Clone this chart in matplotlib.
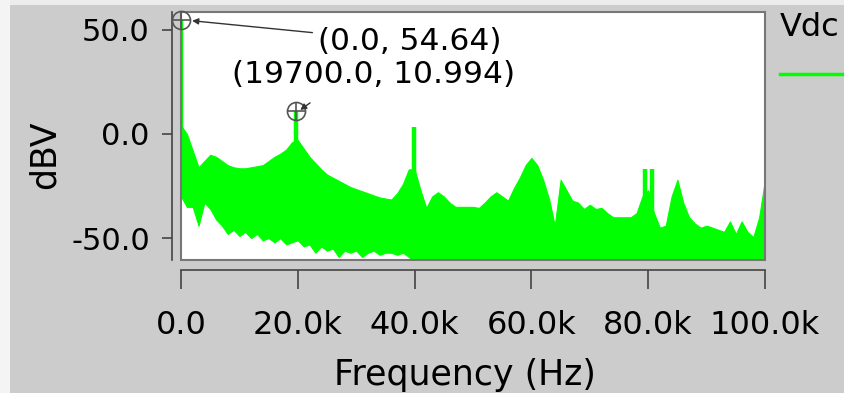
import numpy as np
import matplotlib
matplotlib.use("Agg")
import matplotlib.pyplot as plt
from matplotlib.patches import Rectangle

# spectrum body, 1 kHz bins (dBV)
freq_khz = list(range(0, 101))
upper_db = [4, 0, -8, -16, -13, -10, -11, -13, -15, -16,
            -16.5, -16.5, -16, -15.5, -15, -13, -11, -9.5, -7.5, -4,
            -3, -7, -11, -14, -17, -19.5, -21, -22.5, -24, -25.5,
            -26.5, -27.5, -28.5, -29.5, -30.5, -31, -31.5, -28.5, -24, -17,
            -17, -27, -35.5, -30, -28, -30, -33, -35, -35, -35,
            -35, -35.5, -33, -30, -28, -30, -32, -26, -21, -15,
            -11.5, -15, -22, -31, -44, -22, -27, -32, -33, -36,
            -34, -36, -35.5, -38, -40, -40, -40, -40, -38, -30,
            -27, -38, -45, -44, -30, -22, -33, -40, -43, -45,
            -44, -45, -46, -47, -42, -48, -42, -47, -49.5, -40,
            -22]
lower_db = [-30, -35, -35, -44, -33, -36, -41, -44, -48, -46,
            -49, -47, -50, -48, -51, -50, -52, -50, -53, -52,
            -51, -54, -53, -57, -54, -56, -55, -59, -56, -57,
            -56, -59, -57, -56, -58, -57, -57, -58, -57, -59] + [-62] * 61

# narrow spectral lines
spike_khz = [0.0, 19.7, 39.9, 79.4, 80.6]
spike_db = [54.64, 10.994, 3.4, -17, -17]

# marked points
mark_hz = [0.0, 19700.0]
mark_db = [54.64, 10.994]

xticks = [0, 20000, 40000, 60000, 80000, 100000]
xtick_labels = ["0.0", "20.0k", "40.0k", "60.0k", "80.0k", "100.0k"]
yticks = [-50, 0, 50]
ytick_labels = ["-50.0", "0.0", "50.0"]

green = "#00ff00"
axis_grey = "#444444"

plt.rcParams["font.family"] = ["DejaVu Sans"]

fig = plt.figure(figsize=(8.44, 3.93), dpi=100, facecolor="#cccccc")
# light strips at the top and left edge of the window
fig.patches.append(Rectangle((0, 0.987), 1, 0.013, transform=fig.transFigure,
                             facecolor="#ececec", edgecolor="none", zorder=0))
fig.patches.append(Rectangle((0, 0), 0.012, 1, transform=fig.transFigure,
                             facecolor="#f4f4f4", edgecolor="none", zorder=0))

ax = fig.add_axes([0.2145, 0.3384, 0.6919, 0.6311])
ax.set_facecolor("white")

f_hz = np.array(freq_khz) * 1000.0
ax.fill_between(f_hz, lower_db, upper_db, color=green, lw=0.8, edgecolor=green, zorder=2)
spike_hz = np.array(spike_khz) * 1000.0
spike_base = np.interp(spike_hz, f_hz, upper_db) - 3
ax.vlines(spike_hz, spike_base, spike_db, color=green, lw=3.2, zorder=2)

ax.set_xlim(0, 100000)
ax.set_ylim(-60.5, 58.5)

# frame round the plot area
ax.add_patch(Rectangle((0, 0), 1, 1, transform=ax.transAxes, fill=False,
                       edgecolor="#777777", lw=1.5, clip_on=False, zorder=5))

for s in ["top", "right"]:
    ax.spines[s].set_visible(False)
ax.spines["left"].set_position(("outward", 6.5))
ax.spines["bottom"].set_position(("outward", 7.2))
ax.spines["left"].set_color(axis_grey)
ax.spines["bottom"].set_color(axis_grey)
ax.spines["left"].set_linewidth(1.2)
ax.spines["bottom"].set_linewidth(1.2)

ax.set_xticks(xticks)
ax.set_xticklabels(xtick_labels)
ax.set_yticks(yticks)
ax.set_yticklabels(ytick_labels)
ax.tick_params(axis="x", direction="out", length=14, width=1.2, color=axis_grey,
               labelsize=23, pad=15)
ax.tick_params(axis="y", direction="out", length=7, width=1.2, color=axis_grey,
               labelsize=22, pad=9)

ax.set_xlabel("Frequency (Hz)", fontsize=25)
ax.xaxis.label.set_va("center")
ax.xaxis.set_label_coords(0.486, -0.464)
ax.set_ylabel("dBV", fontsize=25)
ax.yaxis.label.set_va("center")
ax.yaxis.set_label_coords(-0.233, 0.423)

# cursor markers
ax.plot(mark_hz, mark_db, "o", mfc="none", mec="#555555", ms=13, mew=1.2,
        clip_on=False, zorder=6)
ax.plot(mark_hz, mark_db, "+", color="#555555", ms=13, mew=1.2,
        clip_on=False, zorder=6)

ax.annotate("", xy=(1900, 54.3), xytext=(22500, 48.6),
            arrowprops=dict(arrowstyle="-|>", color="#333333", lw=1.0,
                            mutation_scale=9, shrinkA=0, shrinkB=0),
            annotation_clip=False, zorder=7)
ax.text(23500, 44.2, "(%.1f, %.2f)" % (mark_hz[0], mark_db[0]), fontsize=22.5,
        ha="left", va="center", zorder=7)

ax.annotate("", xy=(20400, 11.5), xytext=(22100, 14.9),
            arrowprops=dict(arrowstyle="-|>", color="#333333", lw=1.0,
                            mutation_scale=9, shrinkA=0, shrinkB=0),
            annotation_clip=False, zorder=7)
ax.text(8750, 28.4, "(%.1f, %.3f)" % (mark_hz[1], mark_db[1]), fontsize=22.5,
        ha="left", va="center", zorder=7)

# legend column on the right
fig.text(780 / 844, 1 - 28 / 393, "Vdc", fontsize=23, ha="left", va="center")
fig.add_artist(plt.Line2D([780 / 844, 1.0], [1 - 74 / 393] * 2, color=green,
                          lw=2.5, transform=fig.transFigure))

fig.savefig("out.png", dpi=100, facecolor=fig.get_facecolor())
